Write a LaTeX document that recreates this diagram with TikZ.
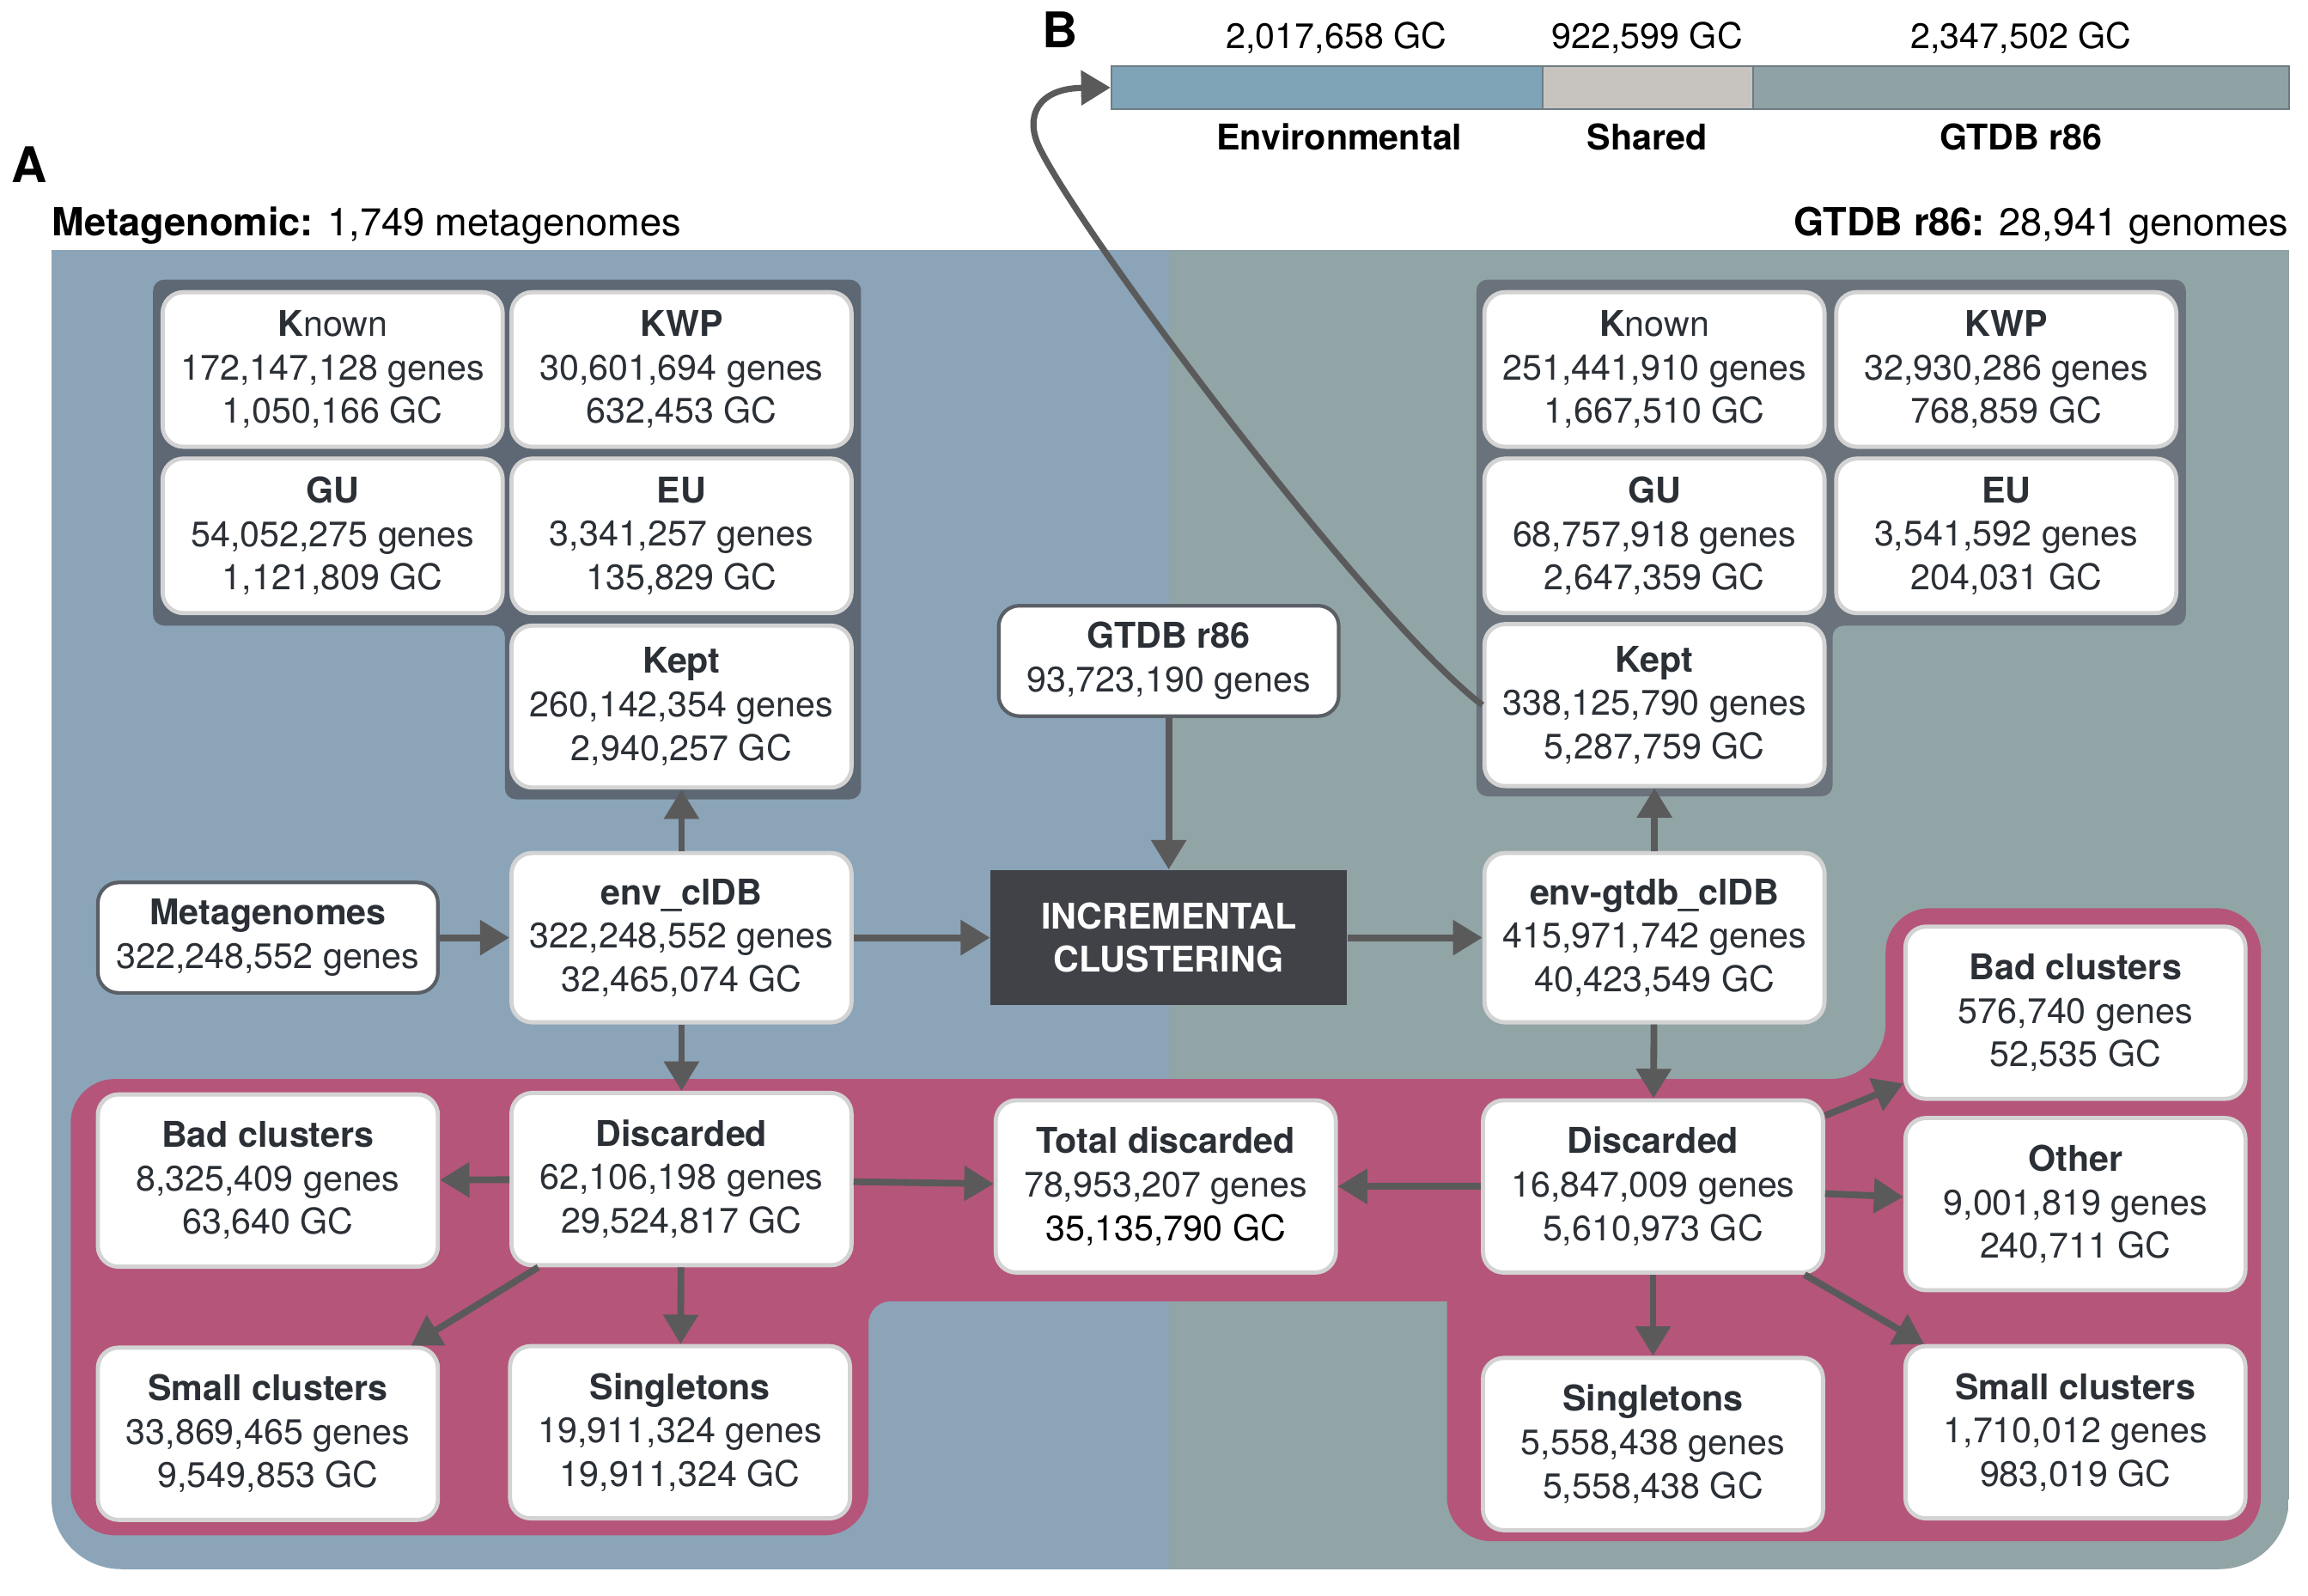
\documentclass[tikz,border=0pt]{standalone}
\usepackage{fontspec}
\setmainfont{TeX Gyre Heros}
\usepackage{xcolor}
\usepackage{tikz}
\usetikzlibrary{arrows.meta}

\definecolor{panelblue}{HTML}{8BA4B8}
\definecolor{panelteal}{HTML}{91A4A6}
\definecolor{groupleft}{HTML}{5E6774}
\definecolor{groupright}{HTML}{6A737C}
\definecolor{discardpink}{HTML}{B5557A}
\definecolor{arrowgray}{HTML}{5A5A5A}
\definecolor{enginegray}{HTML}{404248}
\definecolor{edgegray}{HTML}{D3D3D3}
\definecolor{darkedge}{HTML}{5A5F66}
\definecolor{inkgray}{HTML}{2B3036}
\definecolor{barenvcol}{HTML}{7FA4B8}
\definecolor{barsharedcol}{HTML}{C7C4BF}
\definecolor{bargtdbcol}{HTML}{8FA2A5}
\definecolor{bargrid}{HTML}{6E7C82}

\newcommand{\boxfont}{\fontsize{13.7}{16.8}\selectfont}

\begin{document}
\begin{tikzpicture}[
    x=0.2mm, y=-0.2mm,
    stat/.style={draw=edgegray, line width=1.6pt, fill=white, rounded corners=0.28cm, align=center, text=inkgray, minimum width=4.62cm, minimum height=2.1cm, inner sep=1pt, font=\boxfont},
    tallstat/.style={stat, minimum height=2.34cm},
    source/.style={stat, draw=darkedge, line width=1.4pt, minimum height=1.5cm},
    engine/.style={rectangle, fill=enginegray, text=white, align=center, minimum width=4.84cm, minimum height=1.84cm, font=\boxfont\bfseries},
    flow/.style={draw=arrowgray, line width=2.6pt, -{Triangle[length=0.4cm,width=0.46cm]}},
    barpart/.style={draw=bargrid, line width=0.6pt, inner sep=0pt, minimum height=0.58cm},
    barlabel/.style={inner sep=0pt, font=\boxfont}
]
    \useasboundingbox (0,0) rectangle (1568,1084);

    % Panels A: metagenomic and GTDB halves
    \begin{scope}
        \clip[rounded corners=0.95cm] (35,100) rectangle (1555,1066);
        \fill[panelblue] (35,170) rectangle (795,1066);
        \fill[panelteal] (795,170) rectangle (1555,1066);
    \end{scope}

    % Discarded band
    \fill[discardpink] (48,900) [rounded corners=0.6cm] -- (48,733) [rounded corners=0.75cm] -- (1281,733)
        [rounded corners=0.6cm] -- (1281,617) -- (1536,617) -- (1536,1047) -- (983,1047)
        [sharp corners] -- (983,884) [rounded corners=0.3cm] -- (590,884) [rounded corners=0.6cm] -- (590,1043) -- (48,1043) -- cycle;

    % Kept groups
    \fill[groupleft, rounded corners=0.15cm] (104,190) -- (585,190) -- (585,543) -- (343,543) -- (343,425) -- (104,425) -- cycle;
    \fill[groupright, rounded corners=0.15cm] (1003,190) -- (1485,190) -- (1485,425) -- (1245,425) -- (1245,541) -- (1003,541) -- cycle;

    % Headers
    \node[font=\bfseries\fontsize{19}{19}\selectfont] (panA) at (20,112) {A};
    \node[font=\bfseries\fontsize{19}{19}\selectfont] (panB) at (720,20) {B};
    \node[anchor=west, inner sep=0pt, font=\fontsize{15}{15}\selectfont] (hdmeta) at (35,153) {\textbf{Metagenomic:} 1,749 metagenomes};
    \node[anchor=east, inner sep=0pt, font=\fontsize{15}{15}\selectfont] (hdgtdb) at (1555,153) {\textbf{GTDB r86:} 28,941 genomes};

    % Panel B bar
    \node[barpart, fill=barenvcol, minimum width=5.86cm] (barenv) at (901.5,59.5) {};
    \node[barpart, fill=barsharedcol, minimum width=2.86cm] (barshared) at (1119.5,59.5) {};
    \node[barpart, fill=bargtdbcol, minimum width=7.28cm] (bargtdb) at (1373,59.5) {};
    \node[barlabel] (numenv) at (908,26) {2,017,658 GC};
    \node[barlabel] (numshared) at (1119,26) {922,599 GC};
    \node[barlabel] (numgtdb) at (1373,26) {2,347,502 GC};
    \node[barlabel, font=\boxfont\bfseries] (labenv) at (910,93) {Environmental};
    \node[barlabel, font=\boxfont\bfseries] (labshared) at (1119,93) {Shared};
    \node[barlabel, font=\boxfont\bfseries] (labgtdb) at (1373,93) {GTDB r86};

    % Metagenomic side
    \node[stat] (knownL) at (226,251) {{\bfseries K}nown\\172,147,128 genes\\1,050,166 GC};
    \node[stat] (kwpL) at (463,251) {\textbf{KWP}\\30,601,694 genes\\632,453 GC};
    \node[stat] (guL) at (226,364) {\textbf{GU}\\54,052,275 genes\\1,121,809 GC};
    \node[stat] (euL) at (463,364) {\textbf{EU}\\3,341,257 genes\\135,829 GC};
    \node[stat, minimum height=2.2cm] (keptL) at (463,480) {\textbf{Kept}\\260,142,354 genes\\2,940,257 GC};
    \node[source] (meta) at (182,637) {\textbf{Metagenomes}\\322,248,552 genes};
    \node[stat, minimum height=2.3cm] (envdb) at (463,637) {\textbf{env\_clDB}\\322,248,552 genes\\32,465,074 GC};
    \node[tallstat] (discL) at (463,801) {\textbf{Discarded}\\62,106,198 genes\\29,524,817 GC};
    \node[tallstat] (badL) at (182,802) {\textbf{Bad clusters}\\8,325,409 genes\\63,640 GC};
    \node[tallstat] (smallL) at (182,974) {\textbf{Small clusters}\\33,869,465 genes\\9,549,853 GC};
    \node[tallstat] (singL) at (462,973) {\textbf{Singletons}\\19,911,324 genes\\19,911,324 GC};

    % Middle
    \node[source] (gtdb) at (794,449) {\textbf{GTDB r86}\\93,723,190 genes};
    \node[engine] (incr) at (794,637) {INCREMENTAL\\CLUSTERING};
    \node[tallstat] (totdisc) at (792,806) {\textbf{Total discarded}\\78,953,207 genes\\\textcolor{black}{35,135,790 GC}};

    % GTDB side
    \node[stat] (knownR) at (1124,251) {{\bfseries K}nown\\251,441,910 genes\\1,667,510 GC};
    \node[stat] (kwpR) at (1363,251) {\textbf{KWP}\\32,930,286 genes\\768,859 GC};
    \node[stat] (guR) at (1124,364) {\textbf{GU}\\68,757,918 genes\\2,647,359 GC};
    \node[stat] (euR) at (1363,364) {\textbf{EU}\\3,541,592 genes\\204,031 GC};
    \node[stat, minimum height=2.2cm] (keptR) at (1124,479) {\textbf{Kept}\\338,125,790 genes\\5,287,759 GC};
    \node[stat, minimum height=2.3cm] (envgtdb) at (1124,637) {\textbf{env-gtdb\_clDB}\\415,971,742 genes\\40,423,549 GC};
    \node[tallstat] (discR) at (1123,806) {\textbf{Discarded}\\16,847,009 genes\\5,610,973 GC};
    \node[tallstat] (badR) at (1410,688) {\textbf{Bad clusters}\\576,740 genes\\52,535 GC};
    \node[tallstat] (otherR) at (1410,818) {\textbf{Other}\\9,001,819 genes\\240,711 GC};
    \node[tallstat] (singR) at (1123,981) {\textbf{Singletons}\\5,558,438 genes\\5,558,438 GC};
    \node[tallstat] (smallR) at (1410,973) {\textbf{Small clusters}\\1,710,012 genes\\983,019 GC};

    % Flow
    \draw[flow] (meta) -- (envdb);
    \draw[flow] (envdb) -- (keptL);
    \draw[flow] (envdb) -- (discL);
    \draw[flow] (envdb) -- (incr);
    \draw[flow] (gtdb) -- (incr);
    \draw[flow] (incr) -- (envgtdb);
    \draw[flow] (envgtdb) -- (keptR);
    \draw[flow] (envgtdb) -- (discR);
    \draw[flow] (discL) -- (badL);
    \draw[flow] (discL) -- (smallL);
    \draw[flow] (discL) -- (singL);
    \draw[flow] (discL) -- (totdisc);
    \draw[flow] (discR) -- (totdisc);
    \draw[flow] (discR) -- (badR);
    \draw[flow] (discR) -- (otherR);
    \draw[flow] (discR) -- (singR);
    \draw[flow] (discR) -- (smallR);

    % Kept GTDB side goes to panel B
    \draw[flow, line width=2.4pt] (keptR.west) .. controls (930,420) and (735,160) .. (706,100)
        .. controls (696,79) and (705,60) .. (barenv.west);

\end{tikzpicture}
\end{document}
